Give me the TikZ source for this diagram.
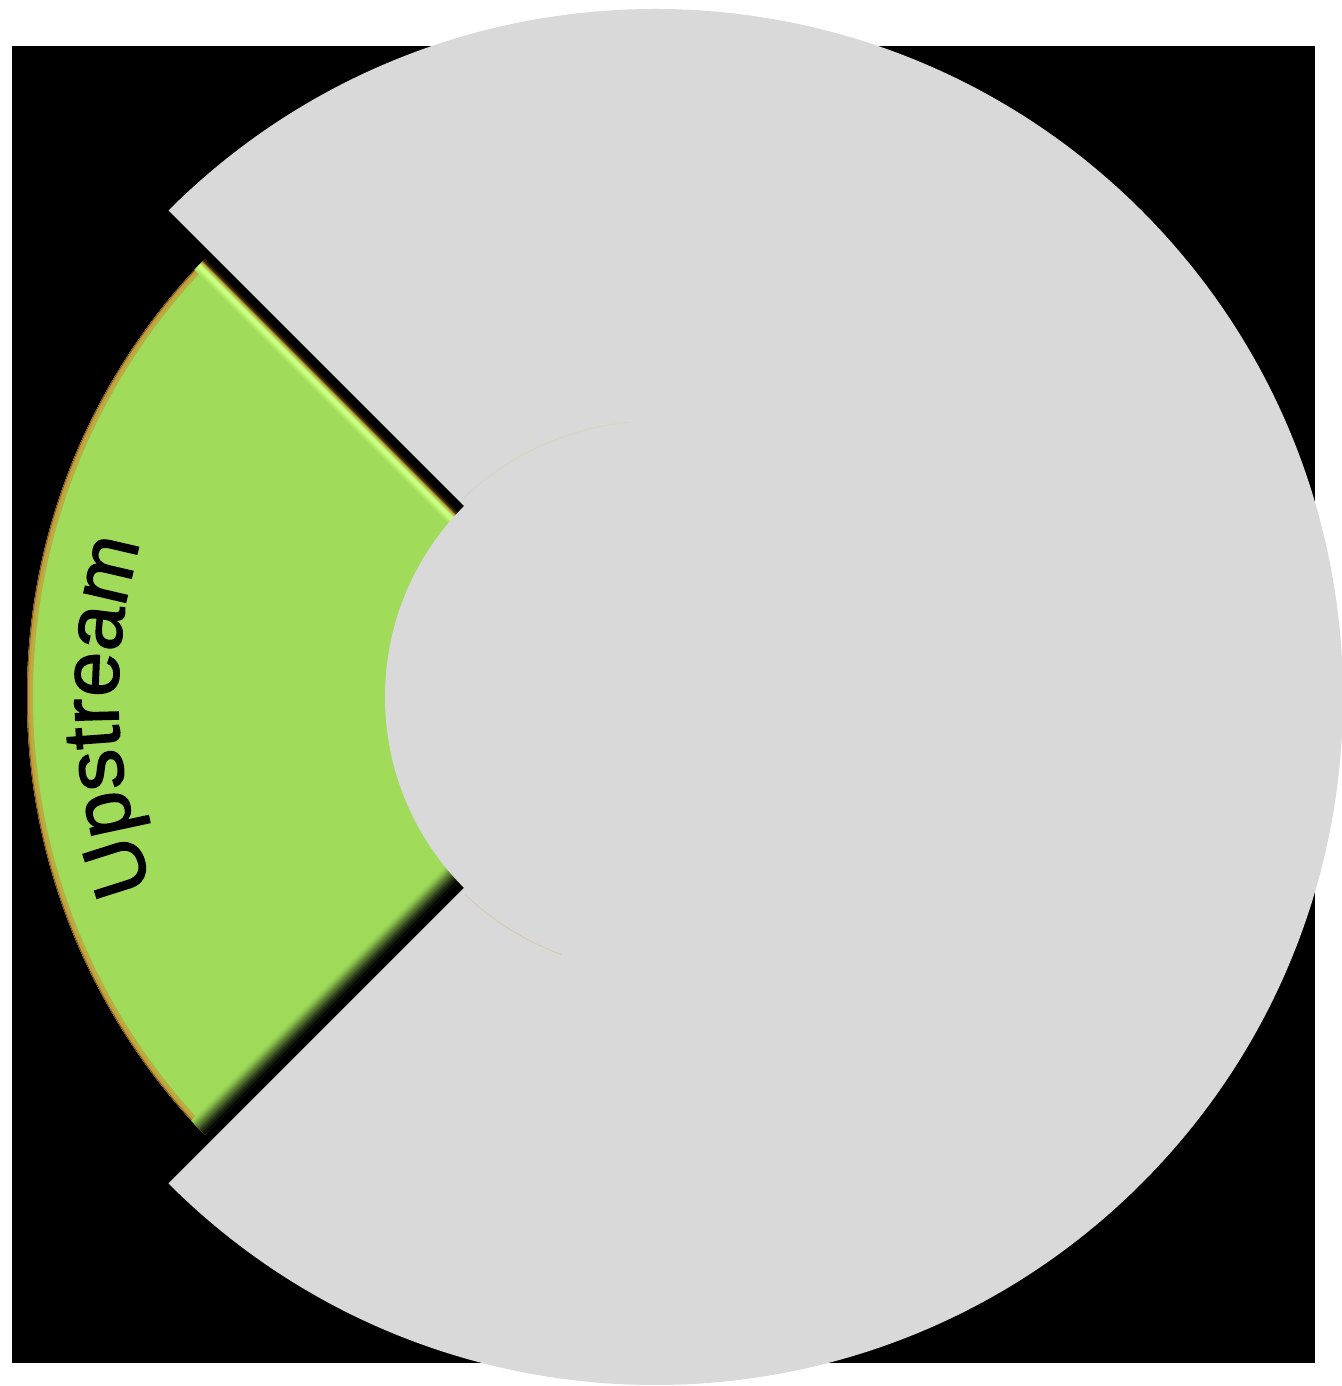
\documentclass[tikz,border=0pt]{standalone}
\usepackage{fontspec}
\setmainfont{Liberation Sans}
\newfontfamily\labelfont[FakeBold=1.8]{Liberation Sans}
\usetikzlibrary{decorations.text}
\definecolor{pgray}{HTML}{D9D9D9}
\definecolor{pgreen}{HTML}{A0DC5A}
\definecolor{pgold}{HTML}{C49A3A}
\definecolor{pbrown}{HTML}{3A2400}
\definecolor{plight}{HTML}{CCFF80}
\tikzset{
  graypart/.style={fill=pgray},
  greenpart/.style={fill=pgreen},
  edgeline/.style={line width=1.3pt}
}
\begin{document}
\begin{tikzpicture}[x=1pt,y=1pt]
\useasboundingbox (0,0) rectangle (1341,1386);
\fill[white] (0,0) rectangle (1341,1386);
\fill[black] (12,23) rectangle (1315,1340);
\coordinate (C) at (655,689);
\coordinate (Cg) at (642.3,689);
% gray pac-man
\fill[graypart] (C) -- ++(135:688) arc[start angle=135, end angle=-135, radius=688] -- cycle;
% green segment with bevel
\begin{scope}
  \clip (Cg) -- +(135:900) -- +(225:900) -- cycle;
  \clip (C) circle (628);
  \fill[greenpart] (C) circle (628);
  \draw[pgold!70!pgreen, line width=12pt] (C) circle (628);
  \draw[pgold, line width=6pt] (C) circle (628);
  \draw[pbrown!60!pgold, line width=1.5pt] (C) circle (628);
  % lower edge: shadow
  \begin{scope}[shift={(Cg)}, rotate=225]
    \foreach \i/\p in {0/100,1/97,2/93,3/89,4/85,5/80,6/75,7/70,8/64,9/58,10/52,11/46,12/40,13/34,14/28,15/22,16/16,17/11,18/7,19/3}
      \draw[edgeline, color=black!\p!pgreen] (0,-\i) -- (720,-\i);
  \end{scope}
  % upper edge: highlight
  \begin{scope}[shift={(Cg)}, rotate=135]
    \foreach \i/\c in {0/black,1/pbrown,2/pbrown,3/pbrown!60!pgold,4/pgold,5/pgold!60!pgreen,6/pgreen!70!plight,7/plight!80!pgreen,8/plight,9/plight,10/plight,11/plight!80!pgreen,12/plight!60!pgreen,13/plight!40!pgreen,14/plight!20!pgreen}
      \draw[edgeline, color=\c] (0,\i) -- (720,\i);
  \end{scope}
\end{scope}
% inner gray disc
\fill[graypart] (C) circle (270);
% faint inner arcs
\draw[pgreen!20!pgray, line width=0.8pt] (C) ++(134:276) arc[start angle=134, end angle=95, radius=276];
\draw[pgold!25!pgray, line width=0.8pt] (C) ++(226:274) arc[start angle=226, end angle=250, radius=274];
% label along the arc
\path[decorate, decoration={text along path, text align=center,
  text format delimiters={|}{|},
  text={|\labelfont\fontsize{81}{81}\selectfont|Upstream}}]
  (C) ++(216:537) arc[start angle=216, end angle=148, radius=537];
\end{tikzpicture}
\end{document}
